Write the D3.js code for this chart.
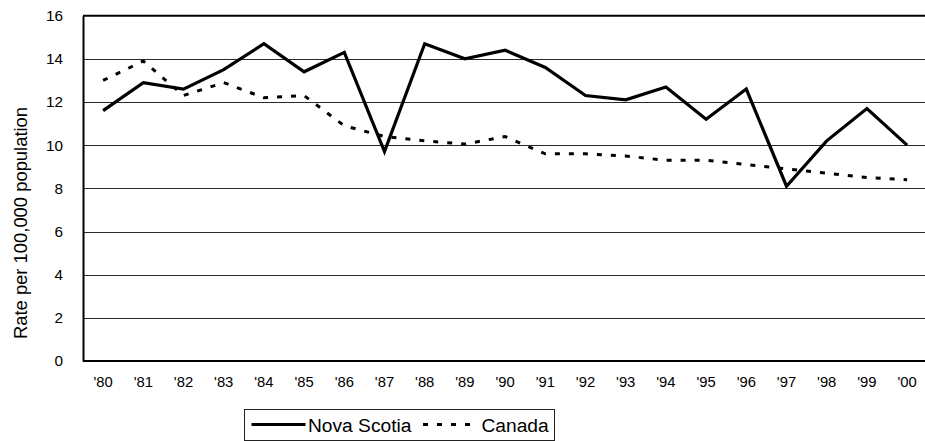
<!DOCTYPE html>
<html>
<head>
<meta charset="utf-8">
<script src="https://cdn.jsdelivr.net/npm/d3@7/dist/d3.min.js"></script>
<style>
  html, body { margin: 0; padding: 0; background: #fff; }
  svg { display: block; font-family: "Liberation Sans", Arial, sans-serif; }
</style>
</head>
<body>
<svg id="chart" width="925" height="441"></svg>
<script>
// Rate per 100,000 population, 1980–2000
const years = ["'80","'81","'82","'83","'84","'85","'86","'87","'88","'89","'90",
               "'91","'92","'93","'94","'95","'96","'97","'98","'99","'00"];
const novaScotia = [11.6, 12.9, 12.6, 13.5, 14.7, 13.4, 14.3, 9.7, 14.7, 14.0, 14.4,
                    13.6, 12.3, 12.1, 12.7, 11.2, 12.6, 8.1, 10.2, 11.7, 10.0];
const canada = [13.0, 13.9, 12.3, 12.9, 12.2, 12.3, 10.9, 10.4, 10.2, 10.05, 10.4,
                9.6, 9.6, 9.5, 9.3, 9.3, 9.1, 8.9, 8.7, 8.5, 8.4];
const yTicks = [0, 2, 4, 6, 8, 10, 12, 14, 16];
const seriesNames = ["Nova Scotia", "Canada"];

const svg = d3.select("#chart");
const plotLeft = 83, plotTop = 15.7, plotBottom = 361, band = 40.2;

const x = d3.scaleBand().domain(years).range([plotLeft, plotLeft + band * years.length]).padding(0);
const y = d3.scaleLinear().domain([0, 16]).range([plotBottom, plotTop]);
const cx = d => x(d) + x.bandwidth() / 2;

// horizontal gridlines
svg.append("g").selectAll("line")
  .data(yTicks.filter(t => t > 0 && t < 16))
  .join("line")
  .attr("x1", plotLeft).attr("x2", 925)
  .attr("y1", d => Math.round(y(d)) + 0.5).attr("y2", d => Math.round(y(d)) + 0.5)
  .attr("stroke", "#2a2a2a").attr("stroke-width", 1.2);

// top frame line
svg.append("line")
  .attr("x1", plotLeft).attr("x2", 925)
  .attr("y1", y(16)).attr("y2", y(16))
  .attr("stroke", "#000").attr("stroke-width", 2);

// y axis
const yAxis = svg.append("g")
  .attr("transform", `translate(${plotLeft},0)`)
  .call(d3.axisLeft(y).tickValues(yTicks).tickSize(0).tickPadding(20));
yAxis.select(".domain").attr("stroke", "#000").attr("stroke-width", 2);
yAxis.selectAll("text").attr("font-size", 15.3).attr("fill", "#000")
  .attr("font-family", "Liberation Sans, Arial, sans-serif");

// x axis
const xAxis = svg.append("g")
  .attr("transform", `translate(0,${plotBottom})`)
  .call(d3.axisBottom(x).tickSize(0).tickPadding(15));
xAxis.select(".domain").attr("stroke", "#000").attr("stroke-width", 2)
  .attr("d", `M${plotLeft},0H925`);
xAxis.selectAll("text").attr("font-size", 14.8).attr("fill", "#000")
  .attr("font-family", "Liberation Sans, Arial, sans-serif");

// y axis title
svg.append("text")
  .attr("transform", `translate(27,223) rotate(-90)`)
  .attr("text-anchor", "middle")
  .attr("font-size", 18.4)
  .attr("fill", "#000")
  .text("Rate per 100,000 population");

// series lines
const line = vals => d3.line()
  .x((d, i) => cx(years[i]))
  .y(d => y(d))(vals);

svg.append("path")
  .attr("d", line(canada))
  .attr("fill", "none").attr("stroke", "#000")
  .attr("stroke-width", 3).attr("stroke-dasharray", "5,9");

svg.append("path")
  .attr("d", line(novaScotia))
  .attr("fill", "none").attr("stroke", "#000")
  .attr("stroke-width", 3.2).attr("stroke-linejoin", "miter");

// legend
const lg = svg.append("g");
lg.append("rect")
  .attr("x", 244.5).attr("y", 409.5).attr("width", 310).attr("height", 31)
  .attr("fill", "#fff").attr("stroke", "#222").attr("stroke-width", 1);
lg.append("line")
  .attr("x1", 251.5).attr("x2", 305.5).attr("y1", 424.5).attr("y2", 424.5)
  .attr("stroke", "#000").attr("stroke-width", 3.2);
lg.append("text").attr("x", 308).attr("y", 431.5).attr("font-size", 19.2).attr("fill", "#000")
  .text(seriesNames[0]);
lg.append("line")
  .attr("x1", 423).attr("x2", 472).attr("y1", 424.5).attr("y2", 424.5)
  .attr("stroke", "#000").attr("stroke-width", 3).attr("stroke-dasharray", "5,9");
lg.append("text").attr("x", 481.5).attr("y", 431.5).attr("font-size", 19.2).attr("fill", "#000")
  .text(seriesNames[1]);
</script>
</body>
</html>
